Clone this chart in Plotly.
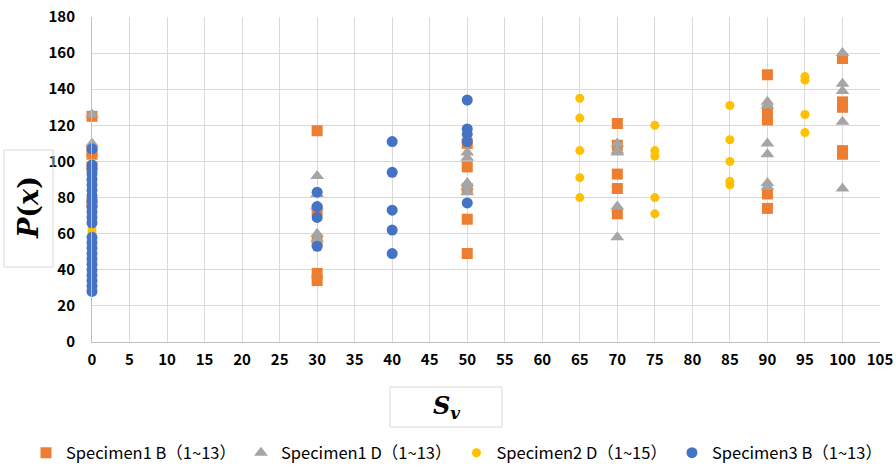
import plotly.graph_objects as go

# ---- data ----
s1b_x = [0, 0, 0, 0, 0, 30, 30, 30, 30, 30, 50, 50, 50, 50, 50, 70, 70, 70, 70, 70, 90, 90, 90, 90, 90, 100, 100, 100, 100, 100]
s1b_y = [125, 106, 104, 97, 77, 117, 73, 56, 38, 34, 110, 97, 85, 68, 49, 121, 109, 93, 85, 71, 148, 128, 123, 82, 74, 157, 133, 130, 106, 104]

s1d_x = [0, 0, 30, 30, 30, 30, 30, 50, 50, 50, 50, 50, 70, 70, 70, 70, 70, 90, 90, 90, 90, 90, 90, 100, 100, 100, 100, 100]
s1d_y = [126, 110, 92, 82, 75, 60, 57, 105, 102, 88, 86, 83, 110, 106, 105, 75, 58, 133, 131, 110, 104, 88, 86, 160, 143, 139, 122, 85]

s2d_x = [0, 0, 0, 0, 65, 65, 65, 65, 65, 75, 75, 75, 75, 75, 85, 85, 85, 85, 85, 95, 95, 95, 95]
s2d_y = [99, 97, 63, 61, 135, 124, 106, 91, 80, 120, 106, 103, 80, 71, 131, 112, 100, 89, 87, 147, 145, 126, 116]

s3b_x = [0] * 24 + [30, 30, 30, 30, 40, 40, 40, 40, 40, 50, 50, 50, 50, 50]
s3b_y = [107, 98, 96, 93, 90, 87, 84, 81, 78, 75, 72, 69, 66, 58, 55, 52, 49, 46, 43, 40, 37, 34, 31, 28,
         83, 75, 69, 53, 111, 94, 73, 62, 49, 134, 118, 115, 111, 77]

names = ["Specimen1 B（1~13）", "Specimen1 D（1~13）", "Specimen2 D（1~15）", "Specimen3 B（1~13）"]
x_ticks = list(range(0, 106, 5))
y_ticks = list(range(0, 181, 20))

fig = go.Figure()
fig.add_trace(go.Scatter(x=s1b_x, y=s1b_y, mode="markers", name=names[0], cliponaxis=False,
                         marker=dict(symbol="square", size=11, color="#ED7D31")))
fig.add_trace(go.Scatter(x=s1d_x, y=s1d_y, mode="markers", name=names[1], cliponaxis=False,
                         marker=dict(symbol="triangle-up", size=12, color="#A5A5A5")))
fig.add_trace(go.Scatter(x=s2d_x, y=s2d_y, mode="markers", name=names[2], cliponaxis=False,
                         marker=dict(symbol="circle", size=9, color="#FFC000")))
fig.add_trace(go.Scatter(x=s3b_x, y=s3b_y, mode="markers", name=names[3], cliponaxis=False,
                         marker=dict(symbol="circle", size=11, color="#4472C4")))

tickfont = dict(family="Noto Sans CJK JP", size=15, color="#000000", weight="bold")

fig.update_xaxes(range=[0, 105], tickvals=x_ticks, ticktext=[str(v) for v in x_ticks],
                 showgrid=True, gridcolor="#d9d9d9", gridwidth=1, zeroline=False,
                 showline=True, linecolor="#bfbfbf", linewidth=1, mirror=False,
                 tickfont=tickfont, ticks="", ticklabelstandoff=4, automargin=False)
fig.update_yaxes(range=[0, 180], tickvals=y_ticks, ticktext=[str(v) for v in y_ticks],
                 showgrid=True, gridcolor="#d9d9d9", gridwidth=1, zeroline=False,
                 showline=True, linecolor="#bfbfbf", linewidth=1,
                 tickfont=tickfont, ticks="", ticklabelstandoff=13, automargin=False)

W, H = 896, 468
L, R, T, B = 92, 16, 17, 126
pw, ph = W - L - R, H - T - B

def px(xp):
    return (xp - L) / pw

def py(yp):
    return (H - B - yp) / ph

shapes = [
    dict(type="rect", xref="paper", yref="paper", x0=px(4), x1=px(53), y0=py(267), y1=py(150),
         line=dict(color="#d9d9d9", width=1), fillcolor="rgba(0,0,0,0)"),
    dict(type="rect", xref="paper", yref="paper", x0=px(390), x1=px(502), y0=py(427), y1=py(387),
         line=dict(color="#d9d9d9", width=1), fillcolor="rgba(0,0,0,0)"),
]

annotations = [
    dict(text="<b><i>P</i>(<i>x</i>)</b>", xref="paper", yref="paper", x=px(28), y=py(208),
         showarrow=False, textangle=-90, xanchor="center", yanchor="middle",
         font=dict(family="DejaVu Serif", size=27, color="#000000")),
    dict(text="<b><i>S<sub>v</sub></i></b>", xref="paper", yref="paper", x=px(446), y=py(407),
         showarrow=False, xanchor="center", yanchor="middle",
         font=dict(family="DejaVu Serif", size=24, color="#000000")),
]

fig.update_layout(
    width=W, height=H,
    margin=dict(l=L, r=R, t=T, b=B, autoexpand=False),
    plot_bgcolor="#ffffff", paper_bgcolor="#ffffff",
    shapes=shapes, annotations=annotations,
    showlegend=True,
    legend=dict(orientation="h", x=px(26), xanchor="left", y=py(453), yanchor="middle",
                font=dict(family="Noto Sans CJK JP", size=16.5, color="#000000"),
                itemwidth=30, tracegroupgap=0, bgcolor="rgba(0,0,0,0)"),
)

fig.write_html("out.html", config={"displayModeBar": False},
               post_script="document.body.style.margin='0';")
